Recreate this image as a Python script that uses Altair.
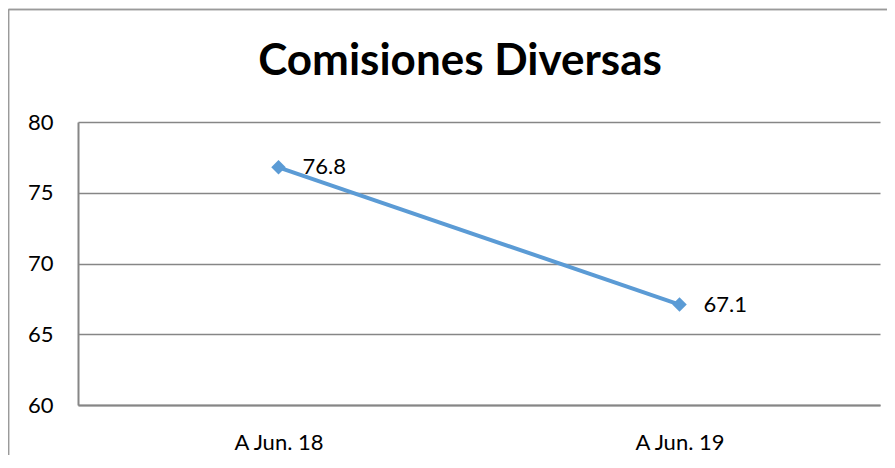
import altair as alt
import pandas as pd

categories = ["A Jun. 18", "A Jun. 19"]
values = [76.8, 67.1]
label_text = ["76.8", "67.1"]
y_ticks = [60, 65, 70, 75, 80]

df = pd.DataFrame({"cat": categories, "val": values, "lab": label_text})

FONT = "Lato"
BLUE = "#5B9BD5"
GRID = "#868686"

x = alt.X("cat:N", sort=categories, title=None,
          scale=alt.Scale(type="point", padding=0.5),
          axis=alt.Axis(labelAngle=0, ticks=False, grid=False, domainColor=GRID,
                        domainWidth=2, labelFont=FONT, labelFontSize=22,
                        labelColor="#000000", labelPadding=27))
y = alt.Y("val:Q", title=None, scale=alt.Scale(domain=[60, 80], nice=False, zero=False),
          axis=alt.Axis(values=y_ticks, ticks=False, grid=True, gridColor=GRID,
                        gridWidth=1.5, domainColor=GRID, domainWidth=2,
                        labelFont=FONT, labelFontSize=22, labelColor="#000000",
                        labelPadding=25))

base = alt.Chart(df).encode(x=x, y=y)

line = base.mark_line(color=BLUE, strokeWidth=4)
pts = base.mark_point(shape="diamond", filled=True, color=BLUE, size=210, opacity=1)
labels = base.mark_text(align="left", baseline="middle", dx=24, font=FONT,
                        fontSize=22, color="#000000").encode(text="lab:N")

border_left = alt.Chart(df).mark_rule(color="#9a9a9a", strokeWidth=1.5).encode(
    x=alt.value(-69.5), y=alt.value(-112.5), y2=alt.value(400))
border_top = alt.Chart(df).mark_rule(color="#9a9a9a", strokeWidth=1.5).encode(
    x=alt.value(-69.5), x2=alt.value(900), y=alt.value(-112.5))

chart = alt.layer(border_left, border_top, line, pts, labels).properties(
    width=802, height=283,
    title=alt.Title("Comisiones Diversas", font=FONT, fontSize=44, fontWeight="bold",
                    color="#000000", anchor="middle", dx=-19, offset=-110,
                    baseline="alphabetic"),
    autosize=alt.AutoSizeParams(type="none"),
    padding={"left": 70, "top": 114, "right": 7, "bottom": 50},
).configure_view(stroke=None)

chart.save("out.html", embed_options={"renderer": "svg", "actions": False})
